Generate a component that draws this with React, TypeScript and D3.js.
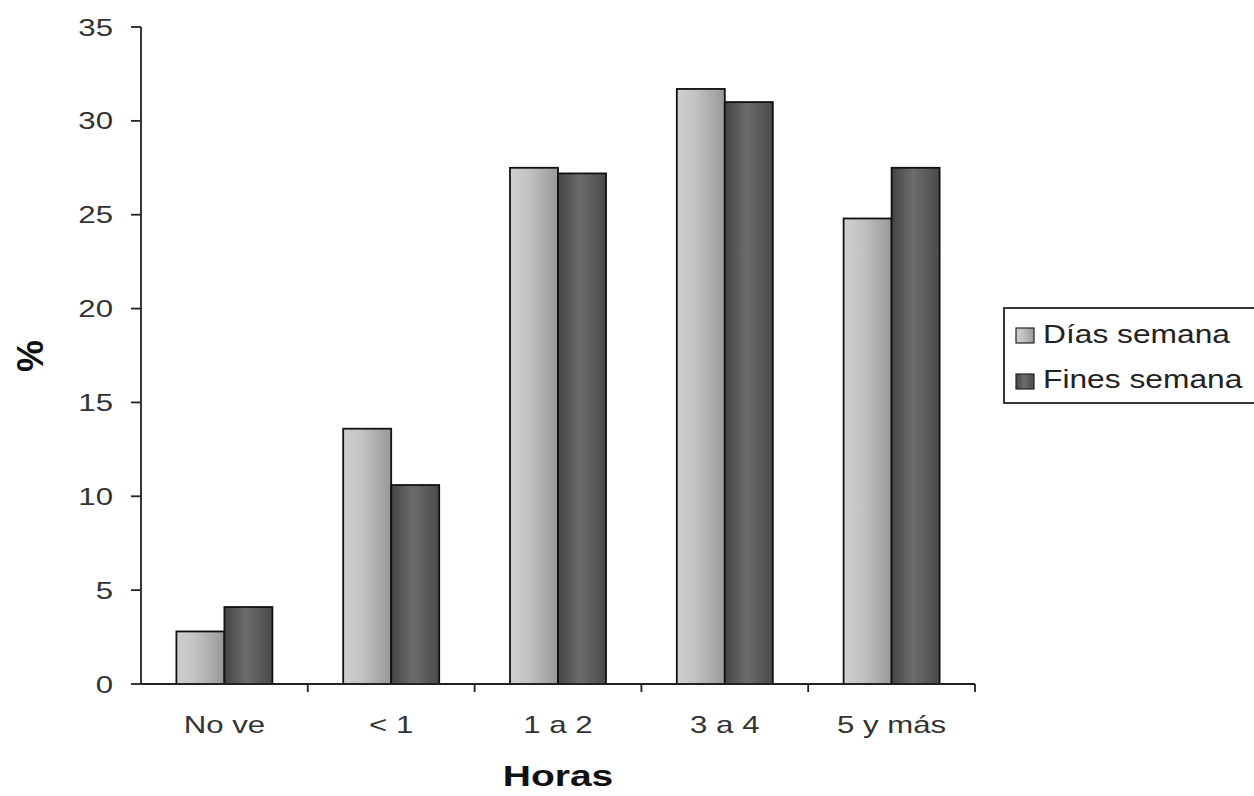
import React from "react";
import * as d3 from "d3";

const categories = ["No ve", "< 1", "1 a 2", "3 a 4", "5 y más"];
const seriesNames = ["Días semana", "Fines semana"];
const diasSemana = [2.8, 13.6, 27.5, 31.7, 24.8];
const finesSemana = [4.1, 10.6, 27.2, 31.0, 27.5];
const yTicks = [0, 5, 10, 15, 20, 25, 30, 35];

const W = 1254;
const H = 796;
const left = 141;
const right = 975;
const top = 27;
const bottom = 684;
const SX = 1.3;

export default function App() {
  const x = d3.scaleBand<string>().domain(categories).range([left, right]);
  const y = d3.scaleLinear().domain([0, 35]).range([bottom, top]);
  const barW = 48;
  const series = [diasSemana, finesSemana];
  const fills = ["url(#gLight)", "url(#gDark)"];
  const font = "'Liberation Sans', Arial, sans-serif";

  return (
    <svg width={W} height={H} style={{ position: "absolute", left: 0, top: 0 }} fontFamily={font}>
      <defs>
        <linearGradient id="gLight" x1="0" x2="1" y1="0" y2="0">
          <stop offset="0" stopColor="#cfcfcf" />
          <stop offset="0.4" stopColor="#c2c2c2" />
          <stop offset="1" stopColor="#989898" />
        </linearGradient>
        <linearGradient id="gDark" x1="0" x2="1" y1="0" y2="0">
          <stop offset="0" stopColor="#444" />
          <stop offset="0.45" stopColor="#6c6c6c" />
          <stop offset="1" stopColor="#4a4a4a" />
        </linearGradient>
      </defs>
      <rect width={W} height={H} fill="#fff" />
      {series.map((vals, si) =>
        categories.map((c, i) => {
          const cx = (x(c) as number) + x.bandwidth() / 2;
          const bx = cx - barW + si * barW;
          return (
            <rect
              key={`${si}-${i}`}
              x={bx}
              y={y(vals[i])}
              width={barW}
              height={bottom - y(vals[i])}
              fill={fills[si]}
              stroke="#111"
              strokeWidth={1.8}
            />
          );
        })
      )}
      {/* y axis */}
      <line x1={left} x2={left} y1={top} y2={bottom} stroke="#222" strokeWidth={1.8} />
      {yTicks.map((t) => (
        <g key={t}>
          <line x1={left - 10} x2={left} y1={y(t)} y2={y(t)} stroke="#222" strokeWidth={1.8} />
          <text transform={`translate(113,${y(t) + 8.5}) scale(${SX},1)`} textAnchor="end" fontSize={24} fill="#333">
            {t}
          </text>
        </g>
      ))}
      {/* x axis */}
      <line x1={left} x2={right} y1={bottom} y2={bottom} stroke="#222" strokeWidth={1.8} />
      {categories.map((c) => (
        <line key={c} x1={(x(c) as number) + x.bandwidth()} x2={(x(c) as number) + x.bandwidth()} y1={bottom} y2={bottom + 8} stroke="#222" strokeWidth={1.8} />
      ))}
      {categories.map((c) => (
        <text key={c} transform={`translate(${(x(c) as number) + x.bandwidth() / 2},733) scale(${SX},1)`} textAnchor="middle" fontSize={24} fill="#333">
          {c}
        </text>
      ))}
      <text transform={`translate(${(left + right) / 2},786) scale(${SX},1)`} textAnchor="middle" fontSize={30} fontWeight="bold" fill="#111">
        Horas
      </text>
      <text transform={`translate(43,356) rotate(-90)`} textAnchor="middle" fontSize={36} fontWeight="bold" fill="#111">
        %
      </text>
      {/* legend */}
      <rect x={1004} y={308} width={260} height={95} fill="#fff" stroke="#222" strokeWidth={1.8} />
      {seriesNames.map((n, i) => (
        <g key={n}>
          <rect x={1016} y={328 + i * 46} width={18} height={15} fill={fills[i]} stroke="#222" strokeWidth={1.2} />
          <text transform={`translate(1043,${343 + i * 45}) scale(1.27,1)`} fontSize={25} fill="#222">
            {n}
          </text>
        </g>
      ))}
    </svg>
  );
}
